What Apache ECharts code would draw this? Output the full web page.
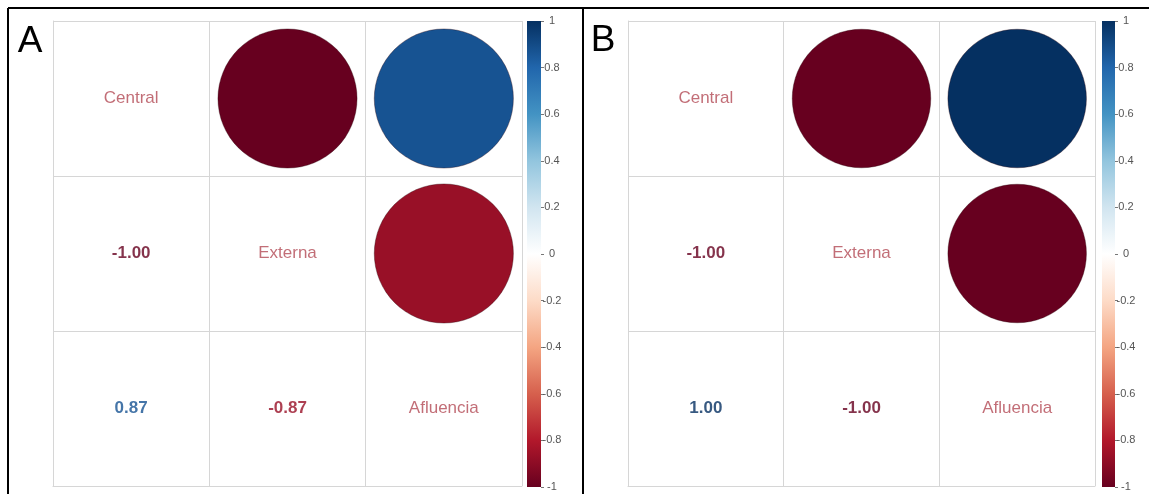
<!DOCTYPE html>
<html>
<head>
<meta charset="utf-8">
<script src="https://cdn.jsdelivr.net/npm/echarts@6/dist/echarts.min.js"></script>
<style>
  html, body { margin: 0; padding: 0; background: #fff; }
  #chart { width: 1149px; height: 494px; }
</style>
</head>
<body>
<div id="chart"></div>
<script>
// variables and correlation matrices
const vars = ["Central", "Externa", "Afluencia"];
const corrA = [
  [1, -1, 0.87],
  [-1, 1, -0.87],
  [0.87, -0.87, 1]
];
const corrB = [
  [1, -1, 1],
  [-1, 1, -1],
  [1, -1, 1]
];
// colorbar range and ticks
const barRange = [-1, 1];
const barTickStep = 0.2;
// RdBu palette, from -1 to 1
const rdbu = ["#67001F", "#B2182B", "#D6604D", "#F4A582", "#FDDBC7", "#FFFFFF",
  "#D1E5F0", "#92C5DE", "#4393C3", "#2166AC", "#053061"];

function hex2rgb(h) {
  return [parseInt(h.substr(1, 2), 16), parseInt(h.substr(3, 2), 16), parseInt(h.substr(5, 2), 16)];
}
// interpolate color for a value in [-1,1]
function colorFor(v) {
  let p = (v + 1) / 2 * (rdbu.length - 1);
  let i = Math.min(Math.floor(p), rdbu.length - 2);
  let t = p - i;
  let a = hex2rgb(rdbu[i]), b = hex2rgb(rdbu[i + 1]);
  let c = a.map((x, k) => Math.round(x + (b[k] - x) * t));
  return "rgb(" + c.join(",") + ")";
}

const chart = echarts.init(document.getElementById("chart"));

// panel layouts
const panels = [
  { corr: corrA, left: 53, top: 21, width: 469, height: 465, barLeft: 527, barWidth: 14 },
  { corr: corrB, left: 628, top: 21, width: 467, height: 465, barLeft: 1102, barWidth: 13 }
];

let grids = [], xAxes = [], yAxes = [], series = [];
const gridColor = "#d6d6d6";

panels.forEach((p, pi) => {
  let gi = grids.length;
  // matrix grid
  grids.push({ left: p.left, top: p.top, width: p.width, height: p.height });
  xAxes.push({
    type: "category", gridIndex: gi, data: vars, boundaryGap: true,
    axisLabel: { show: false }, axisTick: { show: false },
    axisLine: { show: true, lineStyle: { color: gridColor } },
    splitLine: { show: true, lineStyle: { color: gridColor, width: 1 } }
  });
  yAxes.push({
    type: "category", gridIndex: gi, data: vars, inverse: true, boundaryGap: true,
    axisLabel: { show: false }, axisTick: { show: false },
    axisLine: { show: true, lineStyle: { color: gridColor } },
    splitLine: { show: true, lineStyle: { color: gridColor, width: 1 } }
  });

  let cell = p.width / vars.length;
  let circles = [], numbers = [], names = [];
  p.corr.forEach((row, i) => {
    row.forEach((v, j) => {
      if (j > i) circles.push([j, i, v]);
      else if (j < i) numbers.push([j, i, v]);
      else names.push({ value: [j, i, v], name: vars[i] });
    });
  });

  // circles in upper triangle (same size, color by value)
  series.push({
    type: "scatter", xAxisIndex: gi, yAxisIndex: gi,
    symbol: "circle",
    symbolSize: cell * 0.89,
    itemStyle: {
      color: params => colorFor(params.value[2]), opacity: 1,
      borderColor: "rgba(40,0,10,0.35)", borderWidth: 1
    },
    data: circles, silent: true
  });
  // numbers in lower triangle
  series.push({
    type: "scatter", xAxisIndex: gi, yAxisIndex: gi,
    symbolSize: 1, itemStyle: { color: "transparent" },
    label: {
      show: true, position: "inside",
      formatter: params => params.value[2].toFixed(2),
      fontFamily: "Liberation Sans", fontSize: 17, fontWeight: "bold"
    },
    data: numbers.map(d => ({
      value: d,
      label: { color: colorFor(d[2]) }
    })),
    silent: true
  });
  // variable names on the diagonal
  series.push({
    type: "scatter", xAxisIndex: gi, yAxisIndex: gi,
    symbolSize: 1, itemStyle: { color: "transparent" },
    label: {
      show: true, position: "inside", formatter: "{b}",
      fontFamily: "Liberation Sans", fontSize: 17, color: "#b34a55"
    },
    data: names, silent: true
  });

  // colorbar grid
  let bi = grids.length;
  grids.push({ left: p.barLeft, top: p.top, width: p.barWidth, height: p.height + 1 });
  xAxes.push({
    type: "category", gridIndex: bi, data: ["c"],
    axisLabel: { show: false }, axisTick: { show: false }, axisLine: { show: false }
  });
  yAxes.push({
    type: "value", gridIndex: bi, position: "right",
    min: barRange[0], max: barRange[1], interval: barTickStep,
    axisLine: { show: false },
    axisTick: { show: true, length: 3, lineStyle: { color: "#777" } },
    splitLine: { show: false },
    axisLabel: {
      margin: 11, align: "center", fontFamily: "Liberation Sans", fontSize: 11, color: "#555",
      formatter: v => String(+v.toFixed(1))
    }
  });
  series.push({
    type: "bar", xAxisIndex: bi, yAxisIndex: bi, barWidth: "100%", barGap: "-100%",
    data: [barRange[1]], silent: true,
    itemStyle: {
      color: new echarts.graphic.LinearGradient(0, 0, 0, 1,
        rdbu.slice(5).reverse().map((c, k, arr) => ({ offset: k / (arr.length - 1), color: c })))
    }
  });
  series.push({
    type: "bar", xAxisIndex: bi, yAxisIndex: bi, barWidth: "100%", barGap: "-100%",
    data: [barRange[0]], silent: true,
    itemStyle: {
      color: new echarts.graphic.LinearGradient(0, 0, 0, 1,
        rdbu.slice(0, 6).reverse().map((c, k, arr) => ({ offset: k / (arr.length - 1), color: c })))
    }
  });
});

const option = {
  animation: false,
  backgroundColor: "#fff",
  grid: grids,
  xAxis: xAxes,
  yAxis: yAxes,
  series: series,
  graphic: [
    { type: "line", shape: { x1: 8, y1: 8, x2: 1149, y2: 8 }, style: { stroke: "#000", lineWidth: 2 } },
    { type: "line", shape: { x1: 8, y1: 8, x2: 8, y2: 494 }, style: { stroke: "#000", lineWidth: 2 } },
    { type: "line", shape: { x1: 583, y1: 8, x2: 583, y2: 494 }, style: { stroke: "#000", lineWidth: 2 } },
    { type: "text", x: 30, y: 42, style: { text: "A", font: "37px 'Liberation Sans'", fill: "#000", textAlign: "center", textVerticalAlign: "middle" } },
    { type: "text", x: 603, y: 41, style: { text: "B", font: "37px 'Liberation Sans'", fill: "#000", textAlign: "center", textVerticalAlign: "middle" } }
  ]
};

chart.setOption(option);
window.addEventListener("resize", () => chart.resize());
</script>
</body>
</html>
